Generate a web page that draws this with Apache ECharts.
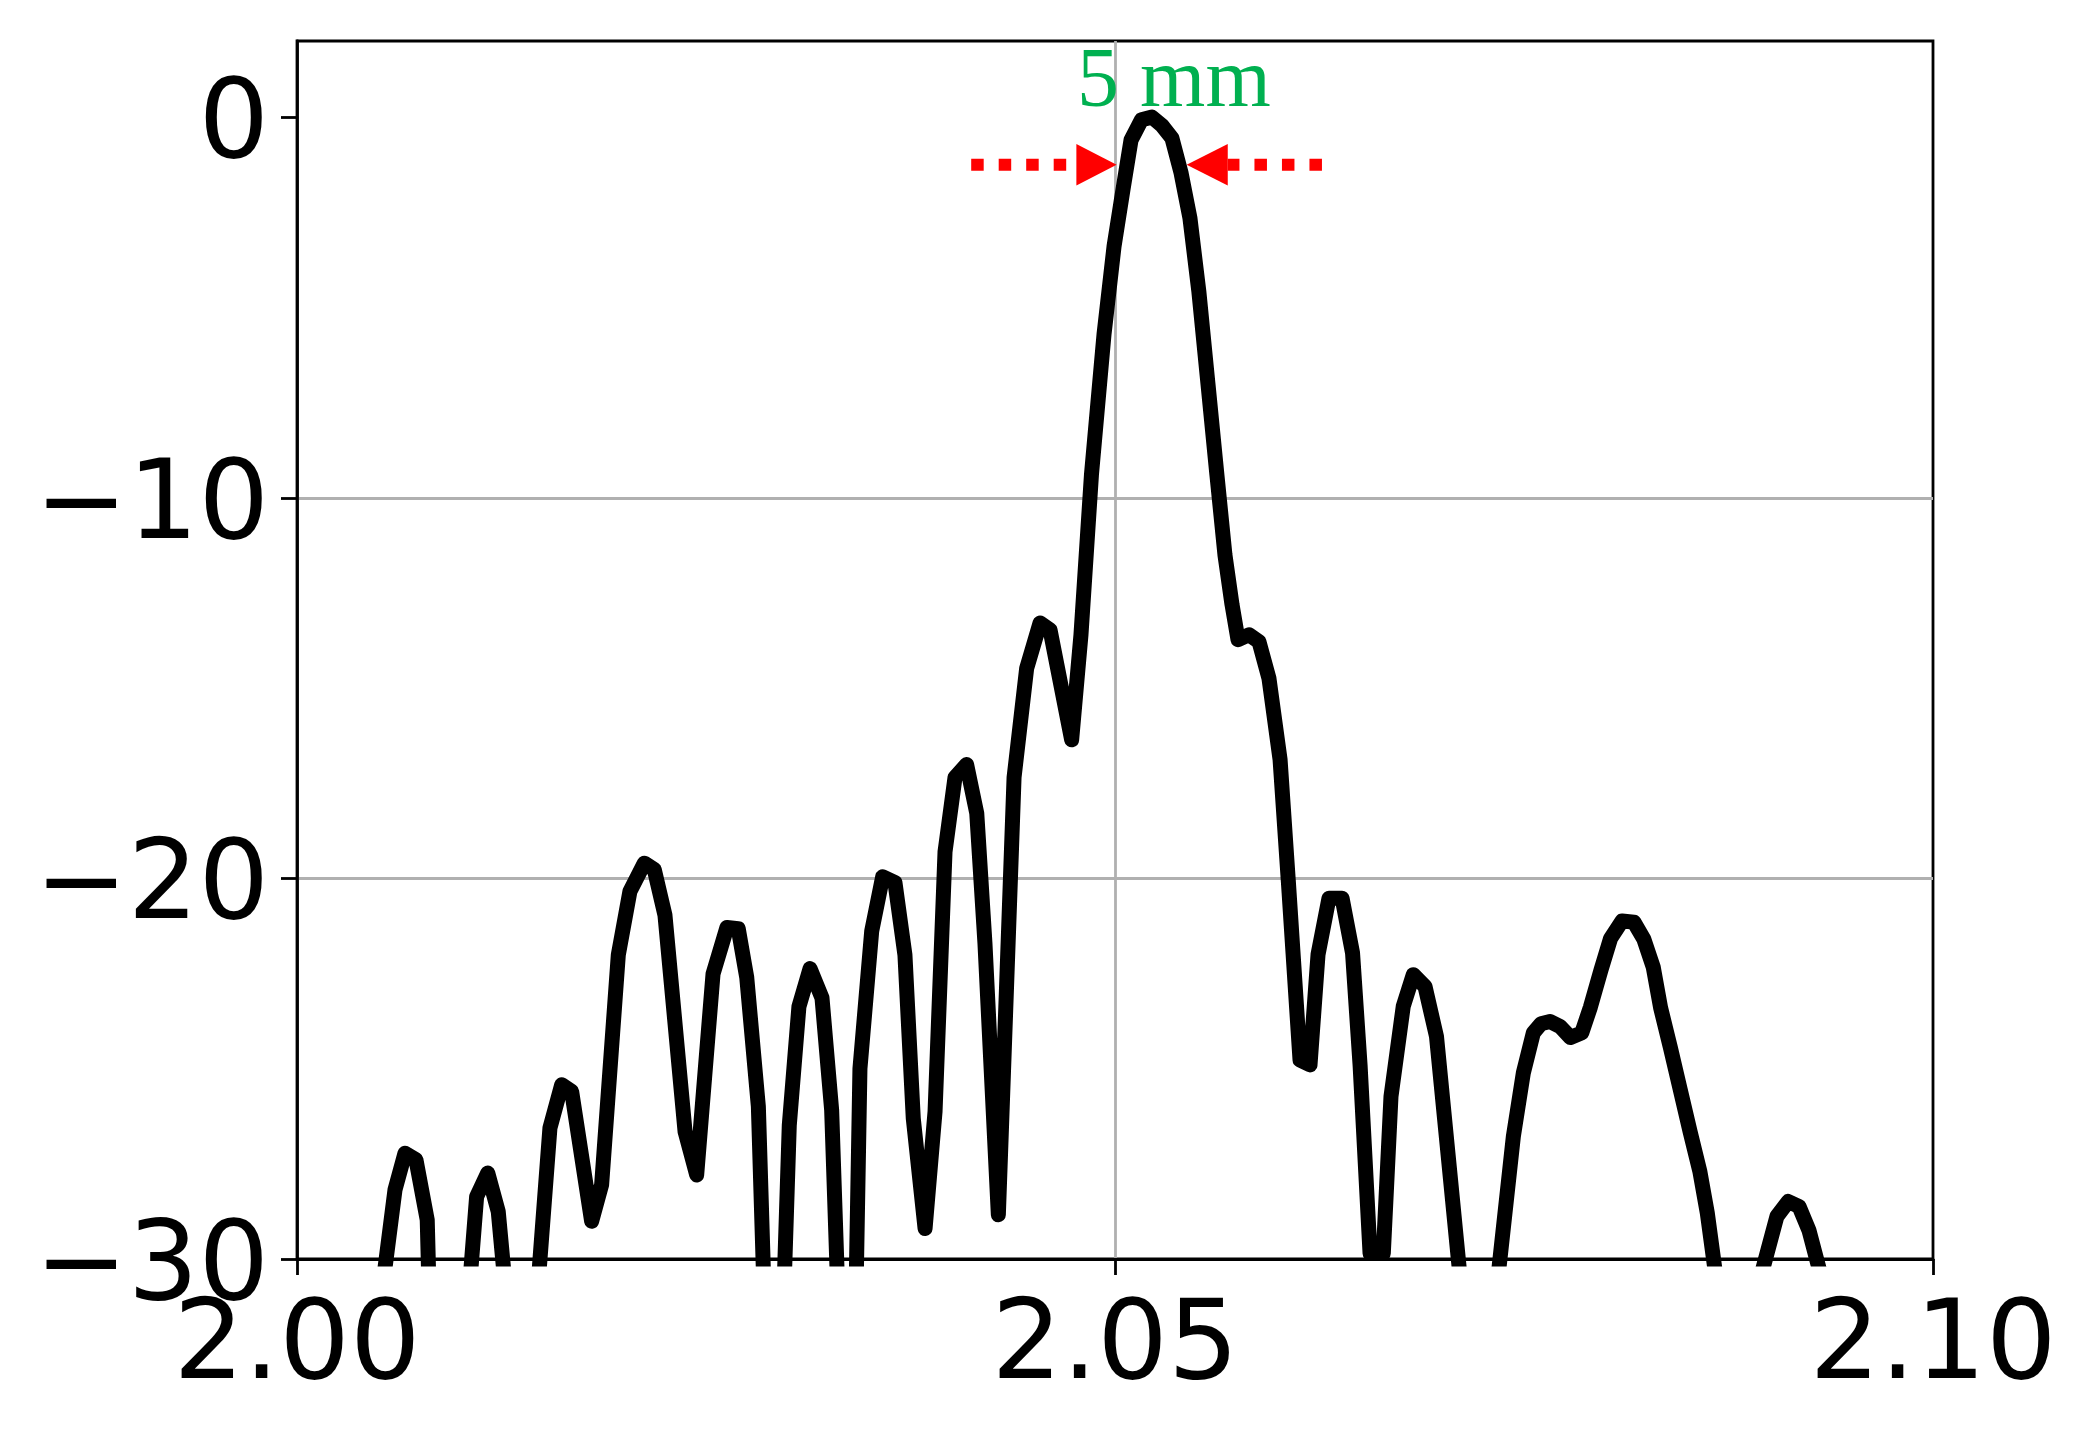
<!DOCTYPE html>
<html><head><meta charset="utf-8">
<script src="https://cdn.jsdelivr.net/npm/echarts@6/dist/echarts.min.js"></script>
<style>html,body{margin:0;padding:0;background:#fff}#c{width:2089px;height:1432px}</style>
</head><body><div id="c"></div>
<script>
// position (x axis units) and level (dB)
const posX = [
2.00000, 2.00530, 2.00599, 2.00660, 2.00727, 2.00796, 2.00862, 2.01033, 2.01098, 2.01166,
2.01230, 2.01296, 2.01473, 2.01546, 2.01618, 2.01679, 2.01801, 2.01862, 2.01964, 2.02035,
2.02123, 2.02184, 2.02249, 2.02372, 2.02443, 2.02543, 2.02628, 2.02697, 2.02749, 2.02820,
2.02885, 2.02946, 2.03009, 2.03068, 2.03136, 2.03209, 2.03268, 2.03331, 2.03392, 2.03441,
2.03513, 2.03580, 2.03655, 2.03716, 2.03767, 2.03839, 2.03900, 2.03961, 2.04022, 2.04093,
2.04155, 2.04205, 2.04287, 2.04383, 2.04460, 2.04542, 2.04603, 2.04735, 2.04792, 2.04856,
2.04933, 2.04994, 2.05049, 2.05098, 2.05162, 2.05226, 2.05287, 2.05348, 2.05403, 2.05458,
2.05513, 2.05568, 2.05623, 2.05672, 2.05715, 2.05752, 2.05819, 2.05880, 2.05941, 2.06009,
2.06059, 2.06131, 2.06192, 2.06241, 2.06308, 2.06388, 2.06452, 2.06498, 2.06559, 2.06640,
2.06687, 2.06762, 2.06823, 2.06895, 2.06965, 2.07167, 2.07292, 2.07435, 2.07496, 2.07557,
2.07604, 2.07659, 2.07720, 2.07784, 2.07853, 2.07906, 2.07971, 2.08029, 2.08099, 2.08172,
2.08233, 2.08290, 2.08335, 2.08395, 2.08455, 2.08515, 2.08575, 2.08620, 2.08690, 2.08943,
2.09046, 2.09115, 2.09181, 2.09242, 2.09322, 2.10000
];
const levelDb = [
-40, -30.5, -28.18, -27.22, -27.39, -28.97, -40, -31.9, -28.36, -27.74,
-28.75, -31.8, -30.7, -26.56, -25.42, -25.6, -29.01, -28.05, -22.01, -20.34,
-19.6, -19.77, -20.96, -26.65, -27.79, -22.51, -21.29, -21.32, -22.6, -25.99,
-35.1, -34.9, -26.49, -23.37, -22.37, -23.14, -26.08, -34.1, -37, -25.0,
-21.38, -19.96, -20.11, -22.01, -26.31, -29.2, -26.13, -19.3, -17.35, -17.01,
-18.29, -21.7, -28.84, -17.35, -14.48, -13.29, -13.47, -16.36, -13.6, -9.4,
-5.7, -3.4, -1.9, -0.6, -0.07, 0.0, -0.22, -0.55, -1.45, -2.65,
-4.6, -7.0, -9.4, -11.5, -12.8, -13.73, -13.6, -13.78, -14.74, -16.88,
-20.04, -24.77, -24.9, -22.0, -20.52, -20.52, -21.96, -24.9, -29.85, -29.85,
-25.73, -23.36, -22.53, -22.84, -24.15, -33.0, -32.4, -26.78, -25.11, -24.06,
-23.82, -23.76, -23.89, -24.18, -24.06, -23.38, -22.4, -21.58, -21.12, -21.15,
-21.6, -22.33, -23.4, -24.45, -25.55, -26.65, -27.7, -28.78, -31.0, -30.53,
-28.88, -28.49, -28.62, -29.25, -30.55, -40
];
const xTicks = [2.00, 2.05, 2.10];
const yTicks = [-30, -20, -10, 0];
const xRange = [2.00, 2.10];
const yRange = [-30, 2];

// annotation (data coordinates)
const annotationText = '5 mm';
const annotationAnchor = [2.04768, 0.12];     // left end / baseline of text
const arrowLevel = -1.25;
const leftArrowX = [2.04121, 2.04764, 2.05010];  // tail, head base, tip
const rightArrowX = [2.06265, 2.05689, 2.05438]; // tail, head base, tip

const chart = echarts.init(document.getElementById('c'), null, {renderer: 'canvas'});
const font = '"DejaVu Sans", sans-serif';
chart.setOption({
  animation: false,
  backgroundColor: '#ffffff',
  grid: {left: 297, top: 41, right: 156, bottom: 173, show: true,
         borderColor: '#000', borderWidth: 2.8, backgroundColor: 'transparent'},
  xAxis: {
    type: 'value', min: xRange[0], max: xRange[1], interval: 0.05,
    axisLine: {show: true, onZero: false, lineStyle: {color: '#000', width: 2.8}},
    axisTick: {show: true, length: 16, customValues: xTicks, lineStyle: {color: '#000', width: 2.8}},
    axisLabel: {customValues: xTicks, fontSize: 111, fontFamily: font, color: '#000', margin: 35,
                formatter: v => Number(v).toFixed(2)},
    splitLine: {show: true, showMinLine: false, showMaxLine: false, lineStyle: {color: '#b0b0b0', width: 2.8}}
  },
  yAxis: {
    type: 'value', min: yRange[0], max: yRange[1], interval: 10,
    axisLine: {show: true, onZero: false, lineStyle: {color: '#000', width: 2.8}},
    axisTick: {show: true, length: 16, customValues: yTicks, lineStyle: {color: '#000', width: 2.8}},
    axisLabel: {customValues: yTicks, fontSize: 111, fontFamily: font, color: '#000', margin: 28,
                verticalAlign: 'top', lineHeight: 22,
                formatter: v => String(v).replace('-', '\u2212')},
    splitLine: {show: true, showMinLine: false, showMaxLine: false, lineStyle: {color: '#b0b0b0', width: 2.8}}
  },
  series: [{
    type: 'line', clip: true, showSymbol: false, symbol: 'none',
    data: posX.map((x, i) => [x, levelDb[i]]),
    lineStyle: {color: '#000', width: 15, join: 'round', cap: 'butt'},
    z: 5
  }]
});

const P = (x, y) => chart.convertToPixel({gridIndex: 0}, [x, y]);
const half = 20.7;
function arrow(xs) {
  const t = P(xs[0], arrowLevel), b = P(xs[1], arrowLevel), tip = P(xs[2], arrowLevel);
  return [
    {type: 'line', z: 50, shape: {x1: t[0], y1: t[1], x2: b[0], y2: b[1]},
     style: {stroke: '#ff0000', lineWidth: 12, lineDash: [12.5, 15], lineCap: 'butt'}},
    {type: 'polygon', z: 51, shape: {points: [[b[0], b[1] - half], [tip[0], tip[1]], [b[0], b[1] + half]]},
     style: {fill: '#ff0000', stroke: null}}
  ];
}
const tp = P(annotationAnchor[0], annotationAnchor[1]);
const tSize = 84;
chart.setOption({
  graphic: [
    ...arrow(leftArrowX), ...arrow(rightArrowX),
    {type: 'text', z: 52, style: {text: annotationText, x: tp[0], y: tp[1] - 0.3375 * tSize,
      fontSize: tSize, fontFamily: '"Liberation Serif", "Times New Roman", serif',
      fill: '#00b050', align: 'left', verticalAlign: 'middle'}}
  ]
});
</script>
</body></html>
